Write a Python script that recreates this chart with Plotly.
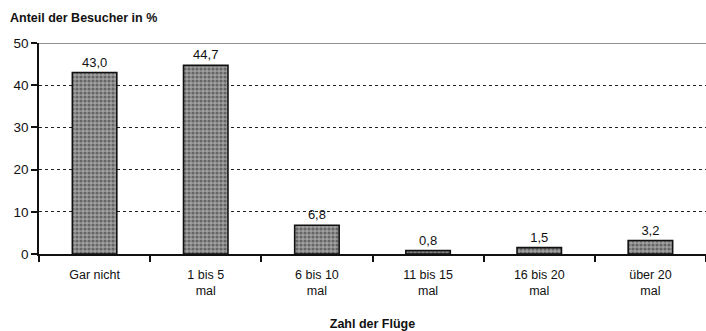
import plotly.graph_objects as go

# Survey: how often visitors have flown
categories = ["Gar nicht", "1 bis 5<br>mal", "6 bis 10<br>mal", "11 bis 15<br>mal",
              "16 bis 20<br>mal", "über 20<br>mal"]
shares = [43.0, 44.7, 6.8, 0.8, 1.5, 3.2]
y_ticks = [0, 10, 20, 30, 40, 50]

FONT = "Liberation Sans, Arial, sans-serif"

fig = go.Figure(
    go.Bar(
        x=categories,
        y=shares,
        width=0.4,
        marker=dict(
            color="#7a7a7a",
            line=dict(color="#111", width=1.6),
            pattern=dict(shape=".", fgcolor="#2a2a2a", bgcolor="#a0a0a0", size=4, solidity=0.5),
        ),
        texttemplate="%{y:.1f}",
        textposition="outside",
        textfont=dict(family=FONT, size=13, color="#111"),
        cliponaxis=False,
    )
)

fig.update_layout(
    width=706,
    height=331,
    margin=dict(l=39, r=0, t=43, b=77),
    paper_bgcolor="white",
    plot_bgcolor="white",
    separators=",.",
    showlegend=False,
    font=dict(family=FONT, color="#111"),
    annotations=[
        dict(text="<b>Anteil der Besucher in %</b>", xref="paper", yref="paper",
             x=-31 / 667, y=1 + 25 / 211, showarrow=False,
             font=dict(size=12.5, family=FONT, color="#111"),
             xanchor="left", yanchor="middle"),
    ],
    shapes=[
        # upper frame line at 50
        dict(type="line", xref="paper", yref="y", x0=0, x1=1, y0=50, y1=50,
             line=dict(color="#222", width=1.2)),
    ],
)

fig.update_xaxes(
    showline=True, linecolor="#111", linewidth=1.6,
    ticks="outside", tickson="boundaries", ticklen=6, tickcolor="#111", tickwidth=1.6,
    tickfont=dict(size=12.5, family=FONT, color="#111"),
    ticklabelstandoff=8,
    title=dict(text="<b>Zahl der Flüge</b>", font=dict(size=12.5, family=FONT, color="#111"),
               standoff=24),
    showgrid=False,
)
fig.update_yaxes(
    range=[0, 50], tickvals=y_ticks,
    showline=True, linecolor="#111", linewidth=1.6,
    ticks="outside", ticklen=6, tickcolor="#111", tickwidth=1.6,
    tickfont=dict(size=13.5, family=FONT, color="#111"),
    showgrid=True, gridcolor="#222", gridwidth=1, griddash="dot",
    zeroline=False,
)

fig.write_html("out.html")
